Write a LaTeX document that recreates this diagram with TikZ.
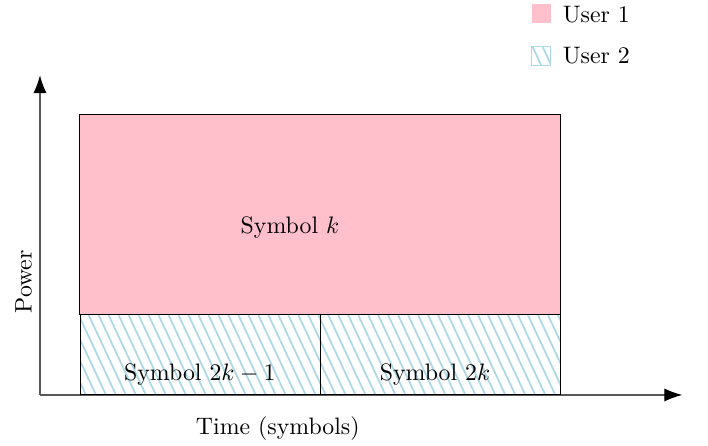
\documentclass[tikz,border=0pt]{standalone}
\usetikzlibrary{arrows.meta, patterns.meta}

\definecolor{userpink}{RGB}{255, 192, 203}
\definecolor{userblue}{RGB}{173, 216, 230}

\begin{document}
\begin{tikzpicture}[
        axis/.style = {draw = black!65, line width = 0.5pt,
            -{Latex[length = 7.5pt, width = 5.5pt, color = black]}},
        user_one/.style = {fill = userpink},
        user_two/.style = {pattern = {Lines[angle = -65, distance = 3.8pt,
            line width = 0.75pt]}, pattern color = userblue},
        block/.style = {draw, inner sep = 0pt, anchor = south west}
    ]
        \useasboundingbox (-0.59, -0.753) rectangle (9.86, 5.83);
        \coordinate (origin) at (0, 0);
        \coordinate (time_end) at (9.48, 0);
        \coordinate (power_end) at (0, 4.72);
        \draw[axis] (origin) -- (time_end);
        \draw[axis] (origin) -- (power_end);
        \node[block, user_one, minimum width = 7.1cm, minimum height = 2.95cm]
            at (0.58, 1.18) (sym_k) {};
        \node[block, user_two, minimum width = 3.55cm, minimum height = 1.18cm]
            at (0.58, 0) (sym_odd) {};
        \node[block, user_two, minimum width = 3.55cm, minimum height = 1.18cm]
            at (4.13, 0) (sym_even) {};
        \node at (3.69, 2.47) (sym_k_text) {Symbol $k$};
        \node at (2.36, 0.30) (sym_odd_text) {Symbol $2k-1$};
        \node at (5.83, 0.30) (sym_even_text) {Symbol $2k$};
        \node at (3.51, -0.49) (time_label) {Time (symbols)};
        \node[rotate = 90] at (-0.24, 1.67) (power_label) {Power};
        \fill[user_one] (7.26, 5.49) rectangle ++(0.28, 0.28);
        \node[anchor = west, inner sep = 0pt] at (7.71, 5.62) (user_one_key) {User 1};
        \filldraw[user_two, draw = userblue] (7.26, 4.87) rectangle ++(0.28, 0.28);
        \node[anchor = west, inner sep = 0pt] at (7.71, 5.01) (user_two_key) {User 2};
    \end{tikzpicture}
\end{document}
